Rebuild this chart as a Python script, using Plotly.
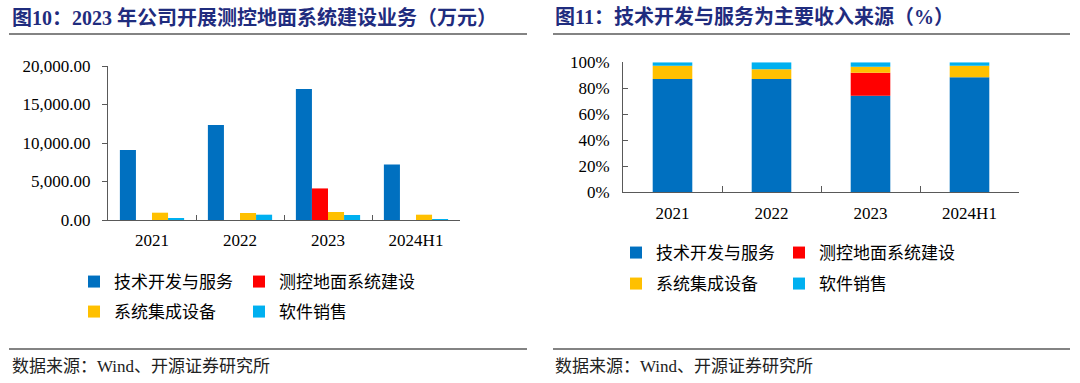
import plotly.graph_objects as go

categories = ["2021", "2022", "2023", "2024H1"]
series_names = ["技术开发与服务", "测控地面系统建设", "系统集成设备", "软件销售"]
colors = ["#0070C0", "#FF0000", "#FFC000", "#00B0F0"]

# Left chart: revenue by business (万元)
tech_service = [9100, 12350, 17000, 7200]
ground_system = [0, 0, 4100, 0]
integration_equip = [950, 910, 1040, 690]
software_sales = [150, 690, 650, 100]

# Right chart: revenue share (%)
tech_service_pct = [87.2, 87.2, 74.3, 88.5]
ground_system_pct = [0, 0, 17.7, 0]
integration_equip_pct = [10.2, 7.4, 4.6, 8.9]
software_sales_pct = [2.6, 5.4, 3.4, 2.6]

left_tick_vals = [0, 5000, 10000, 15000, 20000]
left_tick_text = ["0.00", "5,000.00", "10,000.00", "15,000.00", "20,000.00"]
right_tick_vals = [0, 20, 40, 60, 80, 100]
right_tick_text = ["0%", "20%", "40%", "60%", "80%", "100%"]

title_left = "图10：2023 年公司开展测控地面系统建设业务（万元）"
title_right = "图11：技术开发与服务为主要收入来源（%）"
source_text = "数据来源：Wind、开源证券研究所"

W, H = 1080, 383
def px(x):
    return x / W
def py(y):
    return 1 - y / H

SERIF = "Liberation Serif, Noto Sans CJK SC"
CJK = "Noto Sans CJK SC, Liberation Serif"
AXIS_COLOR = "#595959"
TITLE_COLOR = "#1F2C7E"

fig = go.Figure()

left_vals = [tech_service, ground_system, integration_equip, software_sales]
right_vals = [tech_service_pct, ground_system_pct, integration_equip_pct, software_sales_pct]

for i, (name, vals) in enumerate(zip(series_names, left_vals)):
    fig.add_trace(go.Bar(x=categories, y=vals, name=name, marker_color=colors[i],
                         marker_line_width=0, xaxis="x", yaxis="y",
                         legend="legend" if i == 0 else f"legend{i+1}"))

# Right chart: stacked shares (stack bases from cumulative shares)
cum = [0, 0, 0, 0]
for i, (name, vals) in enumerate(zip(series_names, right_vals)):
    fig.add_trace(go.Bar(x=categories, y=vals, base=list(cum), name=name,
                         marker_color=colors[i], marker_line_width=0,
                         xaxis="x2", yaxis="y2", offsetgroup="stack", width=0.4,
                         legend=f"legend{i+5}"))
    cum = [c + v for c, v in zip(cum, vals)]

axis_common = dict(showline=True, linecolor=AXIS_COLOR, linewidth=1, showgrid=False,
                   zeroline=False, automargin=False,
                   tickfont=dict(family=SERIF, size=17, color="#000000"))

layout = dict(
    width=W, height=H, margin=dict(l=0, r=0, t=0, b=0, pad=0, autoexpand=False),
    paper_bgcolor="white", plot_bgcolor="white",
    barmode="group", bargap=0.27, bargroupgap=0,
    showlegend=True,
    xaxis=dict(domain=[px(108), px(460)], anchor="y", type="category",
               ticks="inside", tickson="boundaries", ticklen=5, tickcolor=AXIS_COLOR,
               ticklabelstandoff=5, **axis_common),
    yaxis=dict(domain=[py(220), py(66)], anchor="x", range=[0, 20000],
               tickvals=left_tick_vals, ticktext=left_tick_text,
               ticks="outside", ticklen=5, tickcolor=AXIS_COLOR,
               ticklabelstandoff=8, **axis_common),
    xaxis2=dict(domain=[px(623), px(1019)], anchor="y2", type="category",
                ticks="inside", tickson="boundaries", ticklen=6, tickcolor=AXIS_COLOR,
                ticklabelstandoff=5, **axis_common),
    yaxis2=dict(domain=[py(192.3), py(62.3)], anchor="x2", range=[0, 100],
                tickvals=right_tick_vals, ticktext=right_tick_text,
                ticks="inside", ticklen=5, tickcolor=AXIS_COLOR,
                ticklabelstandoff=9, **axis_common),
)

# Legend positions (legend box left x, row center y)
legend_pos = [(74, 282), (239, 282), (74, 312), (239, 312),
              (616, 253), (779, 253), (616, 284), (779, 284)]
for k, (lx, ly) in enumerate(legend_pos):
    key = "legend" if k == 0 else f"legend{k+1}"
    layout[key] = dict(x=px(lx), y=py(ly), xanchor="left", yanchor="middle",
                       orientation="h", bgcolor="rgba(0,0,0,0)",
                       font=dict(family=CJK, size=17, color="#000000"),
                       itemwidth=30, tracegroupgap=0)

fig.update_layout(**layout)

# Titles
fig.add_annotation(text=f"<b>{title_left}</b>", x=px(10), y=py(17), xref="paper", yref="paper",
                   xanchor="left", yanchor="middle", showarrow=False,
                   font=dict(family=SERIF, size=20, color=TITLE_COLOR))
fig.add_annotation(text=f"<b>{title_right}</b>", x=px(553), y=py(17), xref="paper", yref="paper",
                   xanchor="left", yanchor="middle", showarrow=False,
                   font=dict(family=SERIF, size=20, color=TITLE_COLOR))
# Sources
for sx in (10, 553):
    fig.add_annotation(text=source_text, x=px(sx), y=py(366), xref="paper", yref="paper",
                       xanchor="left", yanchor="middle", showarrow=False,
                       font=dict(family=SERIF, size=17, color="#222222"))

# Separator lines
for (x0, x1) in ((9, 527), (553, 1070)):
    for yy in (34, 349):
        fig.add_shape(type="line", xref="paper", yref="paper",
                      x0=px(x0), x1=px(x1), y0=py(yy), y1=py(yy),
                      line=dict(color="#5A5A5A", width=1.5))

post = (
    "document.documentElement.style.margin='0';"
    "document.documentElement.style.overflow='hidden';"
    "document.body.style.margin='0';"
    "document.body.style.overflow='hidden';"
)
fig.write_html("out.html", config={"displayModeBar": False}, post_script=post)
